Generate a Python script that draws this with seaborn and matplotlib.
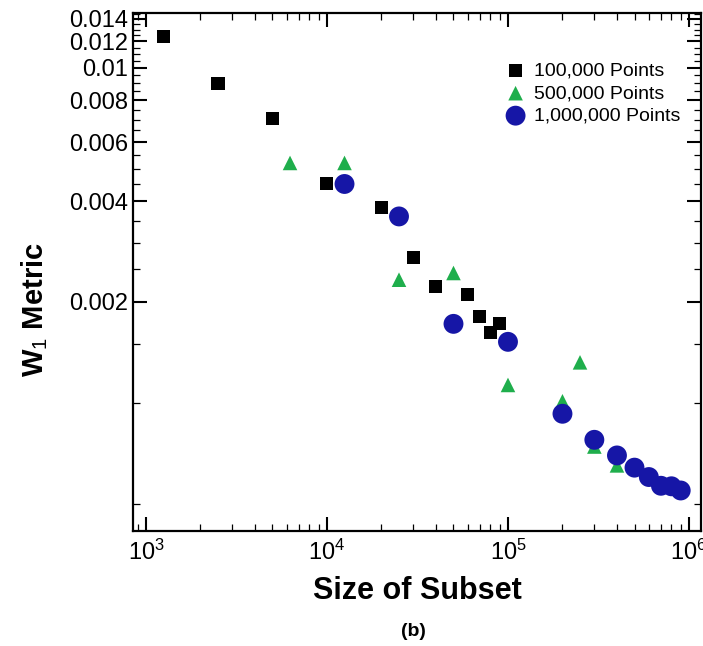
import numpy as np
import pandas as pd
import matplotlib
matplotlib.use('Agg')
import matplotlib.pyplot as plt
import seaborn as sns
from matplotlib.ticker import FixedLocator, FixedFormatter, MultipleLocator, LogLocator

# values
sizes_100k = [1250, 2500, 5000, 10000, 20000, 30000, 40000, 60000, 70000, 80000, 90000]
w1_100k = [0.01244, 0.0090, 0.00708, 0.0045, 0.00382, 0.00272, 0.00222, 0.0021, 0.00181, 0.00162, 0.00172]

sizes_500k = [6250, 12500, 25000, 50000, 100000, 200000, 250000, 300000, 400000]
w1_500k = [0.0052, 0.0052, 0.00233, 0.00244, 0.00113, 0.00101, 0.00132, 0.00074, 0.00065]

sizes_1m = [12500, 25000, 50000, 100000, 200000, 300000, 400000, 500000, 600000, 700000, 800000, 900000]
w1_1m = [0.0045, 0.0036, 0.00172, 0.00152, 0.000927, 0.000775, 0.000696, 0.00064, 0.0006, 0.000565, 0.000563, 0.000547]

y_ticks = [0.002, 0.004, 0.006, 0.008, 0.01, 0.012, 0.014]
y_tick_labels = ['0.002', '0.004', '0.006', '0.008', '0.01', '0.012', '0.014']

series = [
    ('100,000 Points', sizes_100k, w1_100k, 's', 'black', 88),
    ('500,000 Points', sizes_500k, w1_500k, '^', '#1fae4c', 110),
    ('1,000,000 Points', sizes_1m, w1_1m, 'o', '#1616a6', 205),
]

sns.set_style('ticks')
plt.rcParams['font.family'] = ['Liberation Sans', 'DejaVu Sans']
plt.rcParams['mathtext.fontset'] = 'custom'
plt.rcParams['mathtext.rm'] = 'Liberation Sans'
plt.rcParams['mathtext.bf'] = 'Liberation Sans:bold'
plt.rcParams['text.color'] = 'black'
plt.rcParams['axes.labelcolor'] = 'black'

fig = plt.figure(figsize=(7.03, 6.46), dpi=100)
ax = fig.add_axes([133 / 703, 1 - 531 / 646, 568 / 703, 518 / 646])

for name, xs, ys, mk, col, sz in series:
    df = pd.DataFrame({'Size': xs, 'W1': ys})
    sns.scatterplot(data=df, x='Size', y='W1', marker=mk, color=col, s=sz,
                    linewidth=0, edgecolor='none', label=name, ax=ax, zorder=3)

ax.set_xscale('log')
ax.set_yscale('log')
ax.set_xlim(848, 1.165e6)
ax.set_ylim(0.000414, 0.01458)

ax.xaxis.set_major_locator(LogLocator(base=10))
ax.xaxis.set_minor_locator(LogLocator(base=10, subs=np.arange(2, 10)))
ax.yaxis.set_major_locator(FixedLocator(y_ticks))
ax.yaxis.set_major_formatter(FixedFormatter(y_tick_labels))
ax.yaxis.set_minor_locator(MultipleLocator(0.0005))
ax.yaxis.set_minor_formatter(FixedFormatter([]))

ax.tick_params(which='both', direction='in', top=True, right=True,
               color='black', labelcolor='black')
ax.tick_params(which='major', length=10, width=1.5, labelsize=17)
ax.tick_params(which='minor', length=5, width=0.9)
ax.tick_params(axis='x', which='major', pad=6)
for sp in ax.spines.values():
    sp.set_linewidth(1.6)
    sp.set_color('black')

ax.set_xlabel('Size of Subset', fontsize=22, fontweight='bold', labelpad=8)
ax.set_ylabel('W$_1$ Metric', fontsize=21, fontweight='bold')
ax.yaxis.set_label_coords(-0.146, 0.427)

ax.legend(loc='upper left', bbox_to_anchor=(0.653, 0.905), frameon=False,
          fontsize=14, handlelength=1.2, handletextpad=0.35, labelspacing=0.25,
          borderpad=0, borderaxespad=0)

fig.text(413 / 703, 1 - 632 / 646, '(b)', fontsize=14, fontweight='bold',
         ha='center', va='center')

fig.savefig('out.png', dpi=100)
